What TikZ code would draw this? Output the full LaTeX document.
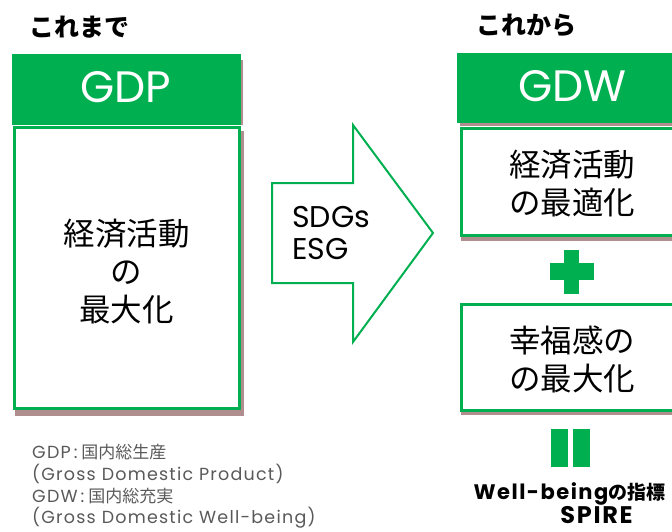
\documentclass[tikz,border=0pt]{standalone}
\usepackage{fontspec}
\setmainfont{Noto Sans CJK JP}
\newfontfamily\lat{Poppins}
\newfontfamily\latw[LetterSpace=7]{Poppins}
\definecolor{grn}{RGB}{0,176,80}
\definecolor{shd}{RGB}{176,142,142}
\definecolor{notec}{RGB}{89,89,89}
\tikzset{
  hdr/.style={fill=grn, draw=none, inner sep=0},
  hdrtxt/.style={text=white, font=\lat\fontsize{44}{44}\selectfont, inner sep=0},
  wbox/.style={draw=grn, line width=3pt, fill=white, inner sep=0},
  shadowbox/.style={fill=shd, draw=none},
  bigtxt/.style={font=\fontsize{31.5}{38}\selectfont, align=center, inner sep=0},
  ttl/.style={font=\fontsize{25}{25}\selectfont\bfseries, inner sep=0},
  notetxt/.style={font=\fontsize{17}{22}\selectfont, text=notec, anchor=west, inner sep=0},
}
\newcommand{\nl}[1]{{\latw\fontsize{17.5}{22}\selectfont #1}}
\begin{document}
\begin{tikzpicture}[x=1pt,y=-1pt]
\useasboundingbox (0,0) rectangle (672,532);
\clip (0,0) rectangle (672,532);
% titles
\node[ttl] (t1) at (79,27) {これまで};
\node[ttl] (t2) at (526,25) {これから};
% left side
\fill[shadowbox] (15,131) rectangle (244,416);
\fill[shadowbox] (236,60) rectangle (243,125);
\node[wbox, minimum width=225pt, minimum height=281pt] (oldbox) at (126.5,268) {};
\node[hdr, minimum width=229pt, minimum height=71pt] (gdp) at (126.5,89.5) {};
\node[hdrtxt] (gdptxt) at (125.5,87) {GDP};
\node[bigtxt] (oldtxt) at (126.5,272) {経済活動\\の\\最大化};
% arrow
\draw[grn, line width=2pt, line join=miter] (272,183) -- (353,183) -- (353,125) -- (433,233) -- (353,342) -- (353,283) -- (272,283) -- cycle;
\node[font=\lat\fontsize{30}{32}\selectfont, align=left, anchor=west, inner sep=0] (sdg) at (292,233) {SDGs\\ESG};
% right side
\fill[shadowbox] (460,118) rectangle (700,126);
\node[hdr, anchor=north west, minimum width=250pt, minimum height=70pt] (gdw) at (457,53) {};
\node[hdrtxt] (gdwtxt) at (572.5,86) {GDW};
\fill[shadowbox] (461,131) rectangle (700,241);
\node[wbox, anchor=north west, minimum width=240pt, minimum height=106pt] (box1) at (459.5,127.5) {};
\node[bigtxt] (b1txt) at (572,184) {経済活動\\の最適化};
\fill[grn] (550,263) rectangle (594,280);
\fill[grn] (564,250) rectangle (579,294);
\fill[shadowbox] (461,306) rectangle (700,415);
\node[wbox, anchor=north west, minimum width=240pt, minimum height=106pt] (box2) at (459.5,302.5) {};
\node[bigtxt] (b2txt) at (572,359) {幸福感の\\の最大化};
\fill[grn] (551,429) rectangle (568,467);
\fill[grn] (573,429) rectangle (590,467);
\node[font=\fontsize{19}{22}\selectfont\bfseries, inner sep=0] (wb) at (569.5,494) {{\latw\fontsize{21}{22}\selectfont\bfseries Well-being}の指標};
\node[font=\latw\fontsize{24}{26}\selectfont\bfseries, inner sep=0] (spire) at (596.5,515) {SPIRE};
% notes
\node[notetxt] (n1) at (32,452) {\nl{GDP}\hspace{3pt}\nl{:}\hspace{4pt}国内総生産};
\node[notetxt] (n2) at (32,474) {\nl{(Gross Domestic Product)}};
\node[notetxt] (n3) at (32,496) {\nl{GDW}\hspace{3pt}\nl{:}\hspace{4pt}国内総充実};
\node[notetxt] (n4) at (32,518) {\nl{(Gross Domestic Well-being)}};
\end{tikzpicture}
\end{document}
